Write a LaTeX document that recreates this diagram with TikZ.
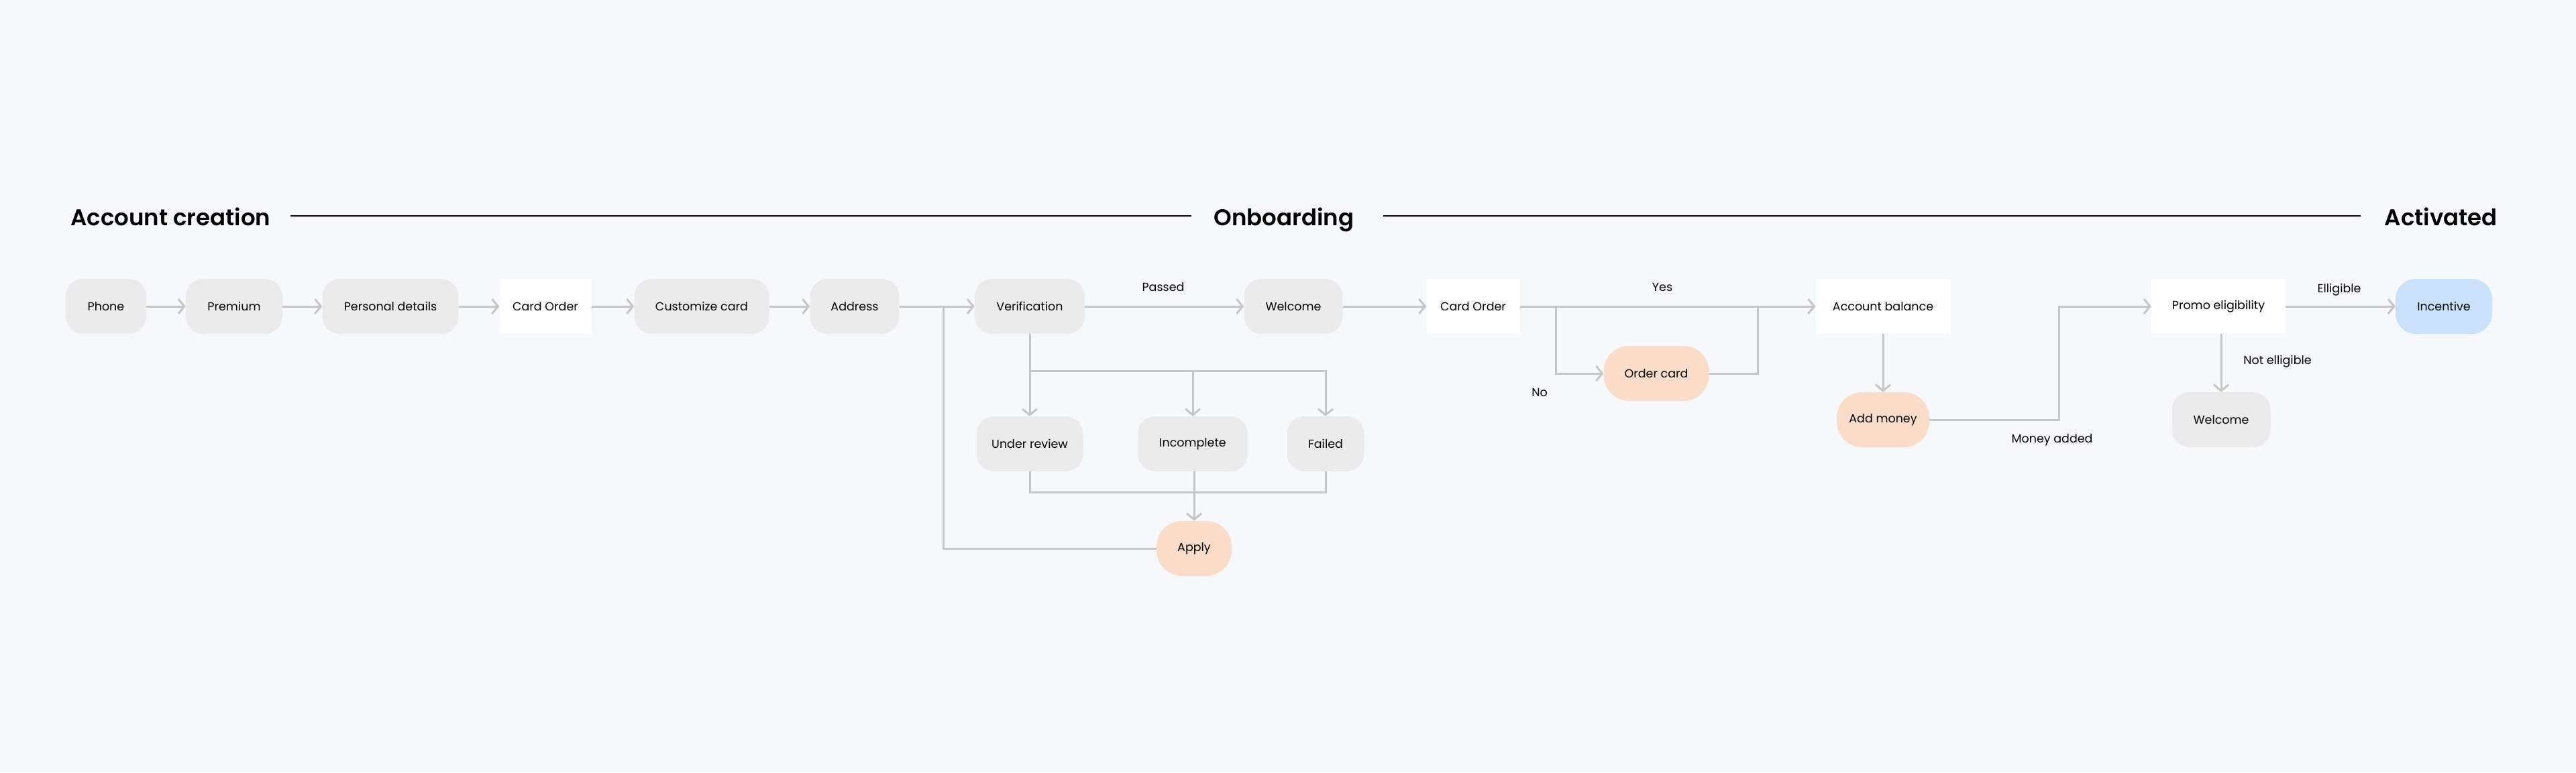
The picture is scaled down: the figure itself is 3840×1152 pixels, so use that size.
\documentclass[tikz,border=0pt]{standalone}
\usepackage{fontspec}
\setmainfont{Poppins}[FontFace={sb}{n}{Font=Poppins SemiBold}]
\usetikzlibrary{arrows.meta}
\definecolor{bgc}{HTML}{F6F9FC}
\definecolor{boxgray}{HTML}{EBEBEB}
\definecolor{peach}{HTML}{F9DDC9}
\definecolor{skyb}{HTML}{C9E2FA}
\definecolor{linegray}{HTML}{C6C6C6}
\tikzset{
  base/.style={inner sep=0pt, minimum height=82pt, font=\fontsize{17.5}{20}\selectfont, text=black},
  gbox/.style={base, fill=boxgray, rounded corners=26pt},
  wbox/.style={base, fill=white},
  pbox/.style={base, fill=peach, rounded corners=38pt},
  bbox/.style={base, fill=skyb, rounded corners=30pt},
  wire/.style={draw=linegray, line width=3pt},
  conn/.style={wire, -{Straight Barb[length=9pt,width=22pt]}},
  lbl/.style={font=\fontsize{17.5}{20}\selectfont, inner sep=0pt},
  ttl/.style={font=\fontsize{34}{40}\fontseries{sb}\selectfont, inner sep=0pt},
  tline/.style={draw=black, line width=2pt}
}
\begin{document}
\begin{tikzpicture}[x=1pt,y=-1pt]
\fill[bgc] (0,0) rectangle (3840,1152);
\useasboundingbox (0,0) rectangle (3840,1152);
% titles
\node[ttl, anchor=base west] (t1) at (105,336) {Account creation};
\node[ttl, anchor=base] (t2) at (1914,336) {Onboarding};
\node[ttl, anchor=base east] (t3) at (3723,336) {Activated};
\coordinate (l1a) at (433,322); \coordinate (l1b) at (1776,322);
\coordinate (l2a) at (2062,322); \coordinate (l2b) at (3519,322);
\draw[tline] (l1a) -- (l1b);
\draw[tline] (l2a) -- (l2b);
% main row
\node[gbox, minimum width=120pt] (phone) at (158,457) {Phone};
\node[gbox, minimum width=144pt] (premium) at (349,457) {Premium};
\node[gbox, minimum width=203pt] (personal) at (582,457) {Personal details};
\node[wbox, minimum width=137pt] (card1) at (813,457) {Card Order};
\node[gbox, minimum width=201pt] (custom) at (1046,457) {Customize card};
\node[gbox, minimum width=133pt] (address) at (1274,457) {Address};
\node[gbox, minimum width=164pt] (verif) at (1535,457) {Verification};
\node[gbox, minimum width=147pt] (welcome) at (1928,457) {Welcome};
\node[wbox, minimum width=139pt] (card2) at (2196,457) {Card Order};
\node[wbox, minimum width=201pt] (acct) at (2807,457) {Account balance};
\node[wbox, minimum width=200pt] (promo) at (3307,457) {Promo eligibility};
\node[bbox, minimum width=144pt] (incent) at (3643,457) {Incentive};
% verification branch
\node[gbox, minimum width=159pt] (under) at (1535,662) {Under review};
\node[gbox, minimum width=164pt] (incomp) at (1778,662) {Incomplete};
\node[gbox, minimum width=115pt] (failed) at (1976,662) {Failed};
\node[pbox, minimum width=112pt] (apply) at (1780,818) {Apply};
% card order branch
\node[pbox, minimum width=157pt] (order) at (2469,557) {Order card};
\node[pbox, minimum width=138pt] (addm) at (2807,626) {Add money};
\node[gbox, minimum width=147pt] (welc2) at (3311,626) {Welcome};
% labels
\node[lbl] (lpass) at (1734,428) {Passed};
\node[lbl] (lyes) at (2478,428) {Yes};
\node[lbl] (lno) at (2295,585) {No};
\node[lbl] (lelig) at (3487,432) {Elligible};
\node[lbl] (lnot) at (3395,539) {Not elligible};
\node[lbl] (lmoney) at (3059,656) {Money added};
% junctions
\coordinate (jA) at (1406,457);
\coordinate (jV) at (1535,553);
\coordinate (jM) at (1535,734);
\coordinate (jN) at (2319,457);
\coordinate (jY) at (2620,457);
\coordinate (jP) at (3069,457);
% connectors
\draw[conn] (phone) -- (premium);
\draw[conn] (premium) -- (personal);
\draw[conn] (personal) -- (card1);
\draw[conn] (card1) -- (custom);
\draw[conn] (custom) -- (address);
\draw[conn] (address) -- (verif);
\draw[conn] (verif) -- (welcome);
\draw[conn] (welcome) -- (card2);
\draw[conn] (card2) -- (acct);
\draw[conn] (promo) -- (incent);
\draw[conn] (promo.south -| welc2.north) -- (welc2.north);
\draw[conn] (acct) -- (addm);
\draw[wire] (apply.west) -| (jA);
\draw[conn] (verif.south) -- (under.north);
\draw[conn] (jV) -| (incomp.north);
\draw[conn] (jV) -| (failed.north);
\draw[wire] (under.south) |- (jM) -| (failed.south);
\draw[conn] (apply.north |- incomp.south) -- (apply.north);
\draw[conn] (jN) |- (order.west);
\draw[wire] (order.east) -| (jY);
\draw[conn] (addm.east) -| (jP) -- (promo.west);
\end{tikzpicture}
\end{document}
